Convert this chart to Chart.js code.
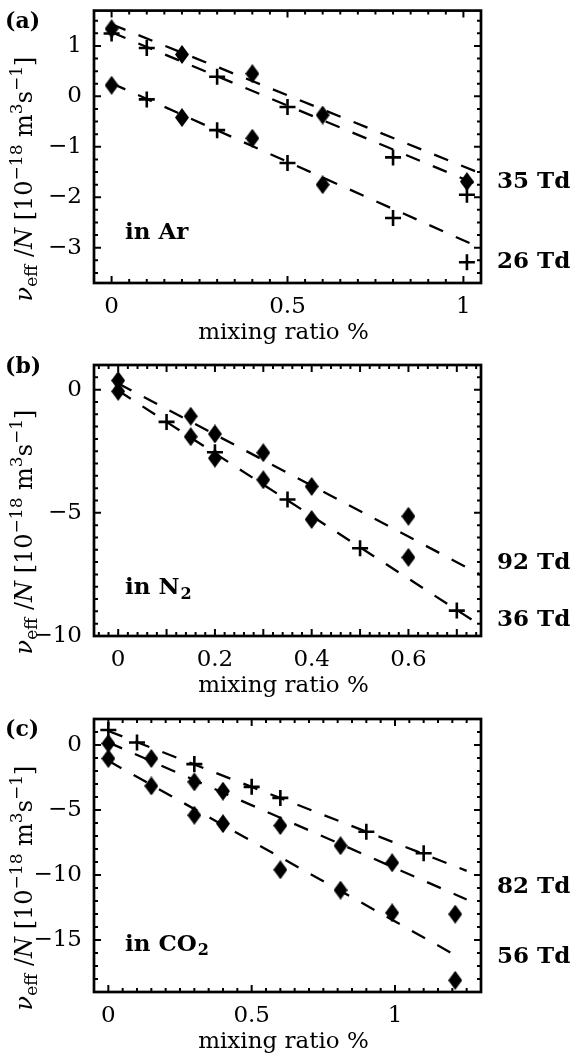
<!DOCTYPE html>
<html><head><meta charset="utf-8">
<script src="https://cdn.jsdelivr.net/npm/chart.js@4/dist/chart.umd.min.js"></script>
<style>
html,body{margin:0;padding:0;background:#fff;}
#wrap{position:relative;width:575px;height:1055px;overflow:hidden;}
canvas{position:absolute;left:0;}
</style></head><body>
<div id="wrap">
<canvas id="cA" width="575" height="350" style="top:0px"></canvas>
<canvas id="cB" width="575" height="360" style="top:345px"></canvas>
<canvas id="cC" width="575" height="355" style="top:700px"></canvas>
</div>
<script>
// ---------- Panel (a): in Ar ----------
const arDiamondX35 = [0, 0.2, 0.4, 0.6, 1.01];
const arDiamondY35 = [1.34, 0.83, 0.45, -0.37, -1.69];
const arCrossX35 = [0, 0.1, 0.3, 0.5, 0.8, 1.01];
const arCrossY35 = [1.245, 0.96, 0.39, -0.21, -1.21, -1.95];
const arDiamondX26 = [0, 0.2, 0.4, 0.6];
const arDiamondY26 = [0.22, -0.42, -0.83, -1.75];
const arCrossX26 = [0.1, 0.3, 0.5, 0.8, 1.01];
const arCrossY26 = [-0.06, -0.67, -1.32, -2.41, -3.29];
const arFitX = [0, 1.05];
const arFitUpperY = [1.43, -1.53];
const arFitMiddleY = [1.27, -1.78];
const arFitLowerY = [0.26, -3.01];
const arXTicks = [0, 0.5, 1];
const arYTicks = [-3, -2, -1, 0, 1];

// ---------- Panel (b): in N2 ----------
const n2DiamondX92 = [0, 0.15, 0.2, 0.3, 0.4, 0.6];
const n2DiamondY92 = [0.37, -1.08, -1.80, -2.56, -3.93, -5.14];
const n2DiamondX36 = [0, 0.15, 0.2, 0.3, 0.4, 0.6];
const n2DiamondY36 = [-0.07, -1.91, -2.78, -3.66, -5.27, -6.81];
const n2CrossX36 = [0.1, 0.2, 0.35, 0.5, 0.7];
const n2CrossY36 = [-1.31, -2.54, -4.46, -6.44, -8.97];
const n2FitX = [0, 0.75];
const n2FitUpperY = [0.25, -7.52];
const n2FitLowerY = [-0.04, -9.58];
const n2XTicks = [0, 0.2, 0.4, 0.6];
const n2YTicks = [-10, -5, 0];

// ---------- Panel (c): in CO2 ----------
const co2CrossX = [0, 0.1, 0.3, 0.5, 0.6, 0.9, 1.1];
const co2CrossY = [1.15, 0.19, -1.47, -3.22, -4.07, -6.67, -8.33];
const co2DiamondX82 = [0, 0.15, 0.3, 0.4, 0.6, 0.81, 0.99, 1.21];
const co2DiamondY82 = [0.12, -1.04, -2.84, -3.55, -6.2, -7.75, -9.06, -13.01];
const co2DiamondX56 = [0, 0.15, 0.3, 0.4, 0.6, 0.81, 0.99, 1.21];
const co2DiamondY56 = [-1.04, -3.15, -5.40, -6.05, -9.6, -11.16, -12.91, -18.10];
const co2FitTopX = [0, 1.25];
const co2FitTopY = [1.08, -9.68];
const co2FitMidX = [0, 1.25];
const co2FitMidY = [0.20, -11.88];
const co2FitLowX = [0, 1.22];
const co2FitLowY = [-1.22, -16.29];
const co2XTicks = [0, 0.5, 1];
const co2YTicks = [-15, -10, -5, 0];

// ---------- helpers ----------
const FONT = '"DejaVu Serif", "Liberation Serif", serif';
Chart.defaults.color = '#000';
Chart.defaults.font.family = FONT;

function pts(xs, ys) { return xs.map((x, i) => ({ x: x, y: ys[i] })); }
function makeDiamond() {
  const c = document.createElement('canvas');
  c.width = 14; c.height = 19;
  const g = c.getContext('2d');
  g.fillStyle = '#000';
  g.beginPath(); g.moveTo(7, 0); g.lineTo(14, 9.5); g.lineTo(7, 19); g.lineTo(0, 9.5); g.closePath(); g.fill();
  return c;
}
const DIAMOND = makeDiamond();
function diaSet(xs, ys) {
  return { data: pts(xs, ys), pointStyle: DIAMOND, pointRadius: 8, showLine: false, borderColor: '#000', backgroundColor: '#000' };
}
function crossSet(xs, ys) {
  return { data: pts(xs, ys), pointStyle: 'cross', pointRadius: 8, pointBorderWidth: 2.6, borderColor: '#000', backgroundColor: '#000', showLine: false };
}
function fitSet(xs, ys) {
  return { data: pts(xs, ys), showLine: true, pointRadius: 0, borderColor: '#000', borderWidth: 2.3, borderDash: [15, 14], fill: false };
}
function fmt(v) {
  const s = String(Math.abs(v));
  return v < 0 ? '\u2212' + s : s;
}

function drawYTitle(ctx, xBase, yCenter) {
  const main = '24px ' + FONT, ital = 'italic 24px ' + FONT, small = '17px ' + FONT;
  const parts = [
    { t: '\u03BD', f: ital, dy: 0 },
    { t: 'eff', f: small, dy: 5 },
    { t: ' /', f: main, dy: 0 },
    { t: 'N', f: ital, dy: 0 },
    { t: ' [10', f: main, dy: 0 },
    { t: '\u221218', f: small, dy: -10 },
    { t: ' m', f: main, dy: 0 },
    { t: '3', f: small, dy: -10 },
    { t: 's', f: main, dy: 0 },
    { t: '\u22121', f: small, dy: -10 },
    { t: ']', f: main, dy: 0 }
  ];
  let total = 0;
  parts.forEach(p => { ctx.font = p.f; p.w = ctx.measureText(p.t).width; total += p.w; });
  ctx.save();
  ctx.translate(xBase, yCenter);
  ctx.rotate(-Math.PI / 2);
  ctx.textBaseline = 'alphabetic';
  ctx.textAlign = 'left';
  let x = -total / 2;
  parts.forEach(p => { ctx.font = p.f; ctx.fillText(p.t, x, p.dy); x += p.w; });
  ctx.restore();
}

const decoPlugin = {
  id: 'deco',
  afterDraw(chart, args, o) {
    const ctx = chart.ctx, a = chart.chartArea, xs = chart.scales.x, ys = chart.scales.y;
    ctx.save();
    ctx.strokeStyle = '#000';
    ctx.fillStyle = '#000';
    const loop = (min, max, step, major, fn) => {
      const n0 = Math.ceil(min / step - 1e-6), n1 = Math.floor(max / step + 1e-6);
      for (let i = n0; i <= n1; i++) {
        const v = i * step, r = v / major;
        fn(v, Math.abs(r - Math.round(r)) < 1e-6);
      }
    };
    ctx.lineWidth = 2;
    ctx.beginPath();
    loop(xs.min, xs.max, o.xMinor, o.xMajor, (v, M) => {
      const p = xs.getPixelForValue(v), L = M ? 7 : 4;
      ctx.moveTo(p, a.bottom); ctx.lineTo(p, a.bottom - L);
      ctx.moveTo(p, a.top); ctx.lineTo(p, a.top + L);
    });
    loop(ys.min, ys.max, o.yMinor, o.yMajor, (v, M) => {
      const p = ys.getPixelForValue(v), L = M ? 7 : 4;
      ctx.moveTo(a.left, p); ctx.lineTo(a.left + L, p);
      ctx.moveTo(a.right, p); ctx.lineTo(a.right - L, p);
    });
    ctx.stroke();
    ctx.lineWidth = 2.7;
    ctx.strokeRect(a.left, a.top, a.right - a.left, a.bottom - a.top);

    // y title
    drawYTitle(ctx, 32, a.bottom - 104);
    // x title
    ctx.font = '23px ' + FONT;
    ctx.textAlign = 'center';
    ctx.textBaseline = 'alphabetic';
    ctx.fillText('mixing ratio %', (a.left + a.right) / 2 - 4, a.bottom + 56);
    // panel label
    ctx.font = 'bold 22px ' + FONT;
    ctx.textAlign = 'left';
    ctx.textBaseline = 'middle';
    ctx.fillText(o.panel, 5, o.panelY);
    // Td labels
    ctx.font = 'bold 23px ' + FONT;
    o.tdLabels.forEach(l => ctx.fillText(l.text, 497, ys.getPixelForValue(l.y)));
    // gas label
    const gy = ys.getPixelForValue(o.gas.y);
    ctx.font = 'bold 23px ' + FONT;
    ctx.fillText(o.gas.main, 125, gy);
    if (o.gas.sub) {
      const w = ctx.measureText(o.gas.main).width;
      ctx.font = 'bold 16px ' + FONT;
      ctx.fillText(o.gas.sub, 125 + w + 1, gy + 6);
    }
    ctx.restore();
  }
};

function makePanel(id, H, T, B, cfg) {
  return new Chart(document.getElementById(id), {
    type: 'scatter',
    data: { datasets: cfg.datasets },
    plugins: [decoPlugin],
    options: {
      responsive: false,
      animation: false,
      events: [],
      devicePixelRatio: 1,
      layout: { padding: { top: T, left: 0, right: 94, bottom: 0 } },
      plugins: {
        legend: { display: false },
        tooltip: { enabled: false },
        deco: cfg.deco
      },
      scales: {
        x: {
          type: 'linear', min: cfg.xMin, max: cfg.xMax,
          grid: { display: false, drawTicks: false },
          border: { display: false },
          ticks: {
            font: { size: 23, family: FONT }, color: '#000', padding: 10,
            autoSkip: false, maxRotation: 0, callback: v => fmt(v)
          },
          afterBuildTicks: s => { s.ticks = cfg.xTicks.map(v => ({ value: v })); },
          afterFit: s => { s.height = H - B; s.paddingLeft = 0; s.paddingRight = 0; }
        },
        y: {
          type: 'linear', min: cfg.yMin, max: cfg.yMax,
          grid: { display: false, drawTicks: false },
          border: { display: false },
          ticks: {
            font: { size: 23, family: FONT }, color: '#000', padding: 12,
            autoSkip: false, callback: v => fmt(v)
          },
          afterBuildTicks: s => { s.ticks = cfg.yTicks.map(v => ({ value: v })); },
          afterFit: s => { s.width = 94; s.paddingTop = 0; s.paddingBottom = 0; }
        }
      }
    }
  });
}

makePanel('cA', 350, 10, 283, {
  xMin: -0.05, xMax: 1.05, yMin: -3.7, yMax: 1.7,
  xTicks: arXTicks, yTicks: arYTicks,
  datasets: [
    fitSet(arFitX, arFitUpperY), fitSet(arFitX, arFitMiddleY), fitSet(arFitX, arFitLowerY),
    diaSet(arDiamondX35, arDiamondY35), crossSet(arCrossX35, arCrossY35),
    diaSet(arDiamondX26, arDiamondY26), crossSet(arCrossX26, arCrossY26)
  ],
  deco: {
    xMinor: 0.05, xMajor: 0.5, yMinor: 0.25, yMajor: 1,
    panel: '(a)', panelY: 22,
    tdLabels: [{ text: '35 Td', y: -1.70 }, { text: '26 Td', y: -3.29 }],
    gas: { main: 'in Ar', sub: '', y: -2.71 }
  }
});

makePanel('cB', 360, 20, 291, {
  xMin: -0.05, xMax: 0.75, yMin: -10, yMax: 1,
  xTicks: n2XTicks, yTicks: n2YTicks,
  datasets: [
    fitSet(n2FitX, n2FitUpperY), fitSet(n2FitX, n2FitLowerY),
    diaSet(n2DiamondX92, n2DiamondY92), diaSet(n2DiamondX36, n2DiamondY36),
    crossSet(n2CrossX36, n2CrossY36)
  ],
  deco: {
    xMinor: 0.02, xMajor: 0.1, yMinor: 0.5, yMajor: 5,
    panel: '(b)', panelY: 22,
    tdLabels: [{ text: '92 Td', y: -7.05 }, { text: '36 Td', y: -9.37 }],
    gas: { main: 'in N', sub: '2', y: -8.07 }
  }
});

makePanel('cC', 355, 19, 292, {
  xMin: -0.05, xMax: 1.3, yMin: -19, yMax: 2,
  xTicks: co2XTicks, yTicks: co2YTicks,
  datasets: [
    fitSet(co2FitTopX, co2FitTopY), fitSet(co2FitMidX, co2FitMidY), fitSet(co2FitLowX, co2FitLowY),
    crossSet(co2CrossX, co2CrossY),
    diaSet(co2DiamondX82, co2DiamondY82), diaSet(co2DiamondX56, co2DiamondY56)
  ],
  deco: {
    xMinor: 0.05, xMajor: 0.5, yMinor: 1, yMajor: 5,
    panel: '(c)', panelY: 30,
    tdLabels: [{ text: '82 Td', y: -10.9 }, { text: '56 Td', y: -16.3 }],
    gas: { main: 'in CO', sub: '2', y: -15.4 }
  }
});
</script>
</body></html>
